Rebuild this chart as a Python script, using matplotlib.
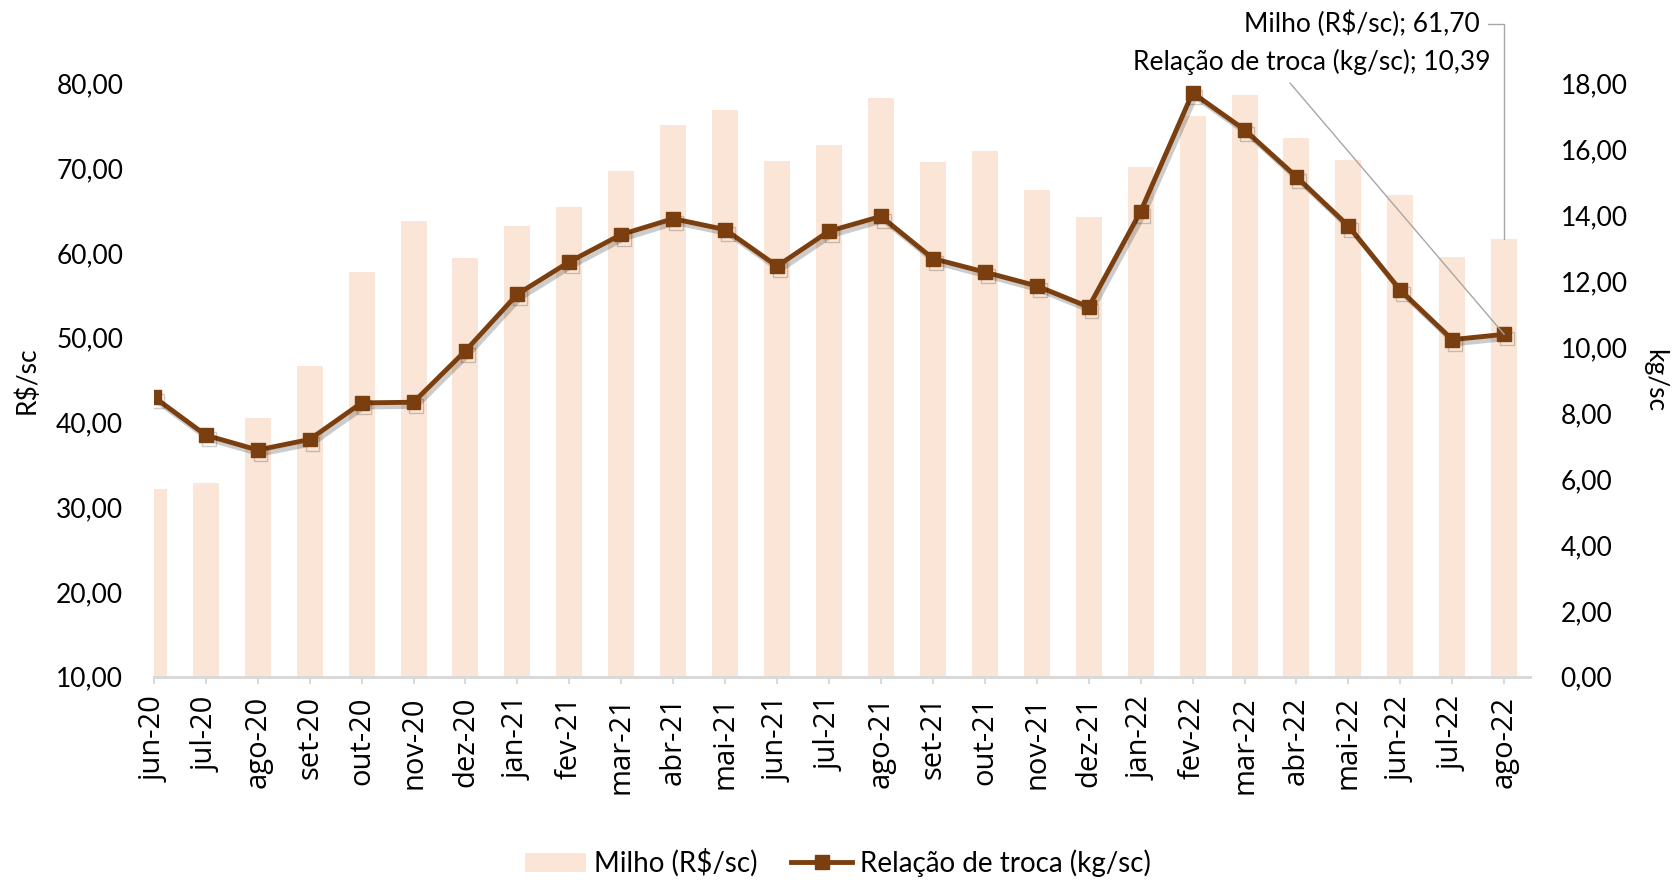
import numpy as np
import matplotlib
matplotlib.use('Agg')
import matplotlib.pyplot as plt
import matplotlib.patheffects as pe
from matplotlib.ticker import FuncFormatter


months = ['jun-20', 'jul-20', 'ago-20', 'set-20', 'out-20', 'nov-20', 'dez-20',
          'jan-21', 'fev-21', 'mar-21', 'abr-21', 'mai-21', 'jun-21', 'jul-21',
          'ago-21', 'set-21', 'out-21', 'nov-21', 'dez-21',
          'jan-22', 'fev-22', 'mar-22', 'abr-22', 'mai-22', 'jun-22', 'jul-22', 'ago-22']
milho = [32.2, 32.9, 40.5, 46.7, 57.8, 63.8, 59.4,
         63.2, 65.4, 69.7, 75.1, 76.9, 70.9, 72.8,
         78.3, 70.7, 72.0, 67.4, 64.2,
         70.2, 76.2, 78.6, 73.6, 71.0, 66.9, 59.5, 61.70]
troca = [8.49, 7.33, 6.88, 7.20, 8.31, 8.33, 9.89,
         11.61, 12.59, 13.42, 13.90, 13.57, 12.46, 13.52,
         13.97, 12.69, 12.28, 11.86, 11.22,
         14.12, 17.72, 16.60, 15.17, 13.68, 11.73, 10.23, 10.39]

BAR_COLOR = '#FBE5D6'
LINE_COLOR = '#7B3F0F'
FONT = 'Lato'


def comma_fmt(v, pos):
    return f'{v:.2f}'.replace('.', ',')


def main():
    fig = plt.figure(figsize=(16.76, 8.8), dpi=100)
    ax = fig.add_axes([0.0918, 0.231, 0.913 - 0.0918, 0.905 - 0.231])
    ax2 = ax.twinx()

    x = np.arange(len(months))
    bars = ax.bar(x, milho, width=0.5, color=BAR_COLOR, label='Milho (R$/sc)', zorder=1)
    ax2.plot(x, troca, color=LINE_COLOR, lw=3.5, marker='s', markersize=10, zorder=3,
             path_effects=[pe.SimpleLineShadow(offset=(2, -3), alpha=0.2, shadow_color='black'),
                           pe.Normal()])
    # plain handle for the legend (no shadow)
    line, = ax2.plot([], [], color=LINE_COLOR, lw=3.5, marker='s', markersize=10,
                     label='Relação de troca (kg/sc)')

    ax.set_xlim(0, len(months) - 0.5)
    ax.set_ylim(10, 80)
    ax2.set_ylim(0, 18)
    ax.set_yticks(np.arange(10, 81, 10))
    ax2.set_yticks(np.arange(0, 18.1, 2))
    ax.yaxis.set_major_formatter(FuncFormatter(comma_fmt))
    ax2.yaxis.set_major_formatter(FuncFormatter(comma_fmt))

    ax.set_xticks(x)
    ax.set_xticklabels(months, rotation=90)
    ax.tick_params(axis='x', length=5, width=1.5, color='#D9D9D9', pad=9,
                   labelsize=21, labelfontfamily='Open Sans')
    ax.tick_params(axis='y', length=0, labelsize=19, pad=22, labelfontfamily=FONT)
    ax2.tick_params(axis='y', length=0, labelsize=19, pad=22, labelfontfamily=FONT)

    for a in (ax, ax2):
        for s in ('top', 'left', 'right'):
            a.spines[s].set_visible(False)
        a.spines['bottom'].set_color('#D9D9D9')
        a.spines['bottom'].set_linewidth(2)

    ax.set_ylabel('R$/sc', fontsize=19, family=FONT, labelpad=12)
    ax2.set_ylabel('kg/sc', fontsize=19, family=FONT, rotation=270, labelpad=28)

    # data labels with leader lines
    last = len(months) - 1
    ax.annotate(f'Milho (R$/sc); {comma_fmt(milho[-1], 0)}',
                xy=(last, milho[-1]), xycoords='data',
                xytext=(1480 / 1676, 1 - 24 / 880), textcoords='figure fraction',
                ha='right', va='center', fontsize=19, family=FONT,
                arrowprops=dict(arrowstyle='-', color='#A6A6A6', lw=1,
                                connectionstyle='angle,angleA=0,angleB=90,rad=0',
                                shrinkA=4, shrinkB=0))
    ax2.annotate(f'Relação de troca (kg/sc); {comma_fmt(troca[-1], 0)}',
                 xy=(last, troca[-1]), xycoords='data',
                 xytext=(1490 / 1676, 1 - 62 / 880), textcoords='figure fraction',
                 ha='right', va='center', fontsize=19, family=FONT)
    ax2.annotate('', xy=(last, troca[-1]), xycoords='data',
                 xytext=(1290 / 1676, 1 - 83 / 880), textcoords='figure fraction',
                 arrowprops=dict(arrowstyle='-', color='#A6A6A6', lw=1, shrinkA=0, shrinkB=0))

    fig.legend(handles=[bars, line], loc='center', bbox_to_anchor=(0.5, 1 - 863 / 880),
               ncol=2, frameon=False, prop={'family': FONT, 'size': 20},
               handlelength=2.2, columnspacing=1.2, handletextpad=0.3)

    fig.savefig('out.png', dpi=100)


if __name__ == '__main__':
    main()
